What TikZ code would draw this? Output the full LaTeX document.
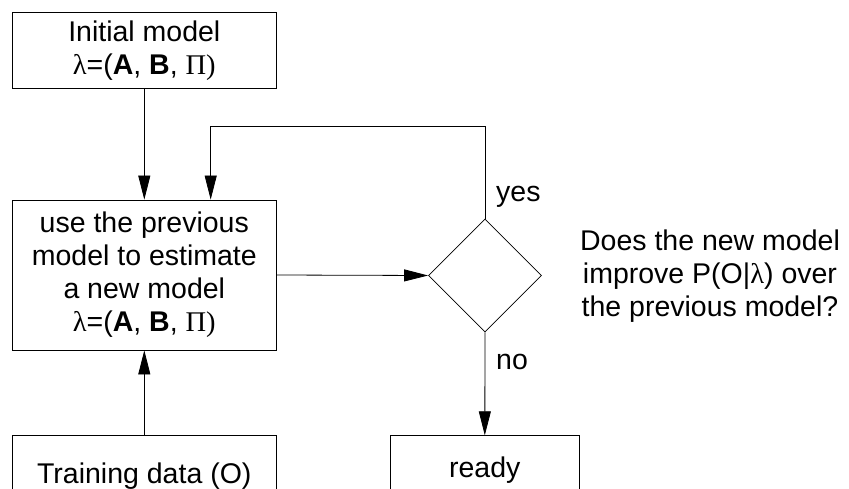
\documentclass[tikz,border=0pt]{standalone}
\usepackage{fontspec}
\setmainfont{Liberation Sans}
\newfontfamily\grk{Liberation Serif}
\usetikzlibrary{shapes.geometric,arrows.meta}
\begin{document}
\begin{tikzpicture}[x=1pt,y=-1pt,
  txt/.style={font=\fontsize{28.5}{33}\selectfont, align=center, inner sep=0pt},
  box/.style={txt, draw, line width=0.8pt, minimum width=263.3pt},
  arr/.style={draw, line width=0.8pt, -{Triangle[length=24pt,width=12pt]}},
  ln/.style={draw, line width=0.8pt}]
\useasboundingbox (0,0) rectangle (849,489);
\clip (0,0) rectangle (849,489);
\node[box, minimum height=75.3pt] (top) at (144.3,50.3)
  {Initial model\\{\grk λ}=(\textbf{A}, \textbf{B}, {\grk Π)}};
\node[box, minimum height=150pt] (mid) at (144.3,275)
  {use the previous\\model to estimate\\a new model\\{\grk λ}=(\textbf{A}, \textbf{B}, {\grk Π)}};
\node[box, minimum height=75pt] (train) at (144.3,473.2) {};
\node[txt] (traint) at (144.3,476) {Training data (O)};
\node[box, minimum width=188.3pt, minimum height=75pt] (ready) at (484.8,473.2) {};
\node[txt] (readyt) at (484.8,470) {ready};
\node[draw, line width=0.8pt, shape=diamond, minimum width=113pt, minimum height=113pt, inner sep=0pt] (dia) at (485,275.5) {};
\coordinate (lp) at (210.7,126.5);
\node[txt] (q) at (710,276) {Does the new model\\improve P(O|{\grk λ}) over\\the previous model?};
\node[txt, anchor=west] (yes) at (496,197) {yes};
\node[txt, anchor=west] (no) at (496,362) {no};
\draw[arr] (top) -- (mid);
\draw[arr] (train) -- (mid);
\draw[arr] (mid.east) -- (dia.west);
\draw[arr] (dia.north) |- (lp) -- (lp |- mid.north);
\draw[arr] (dia.south) -- (ready.north);
\end{tikzpicture}
\end{document}
